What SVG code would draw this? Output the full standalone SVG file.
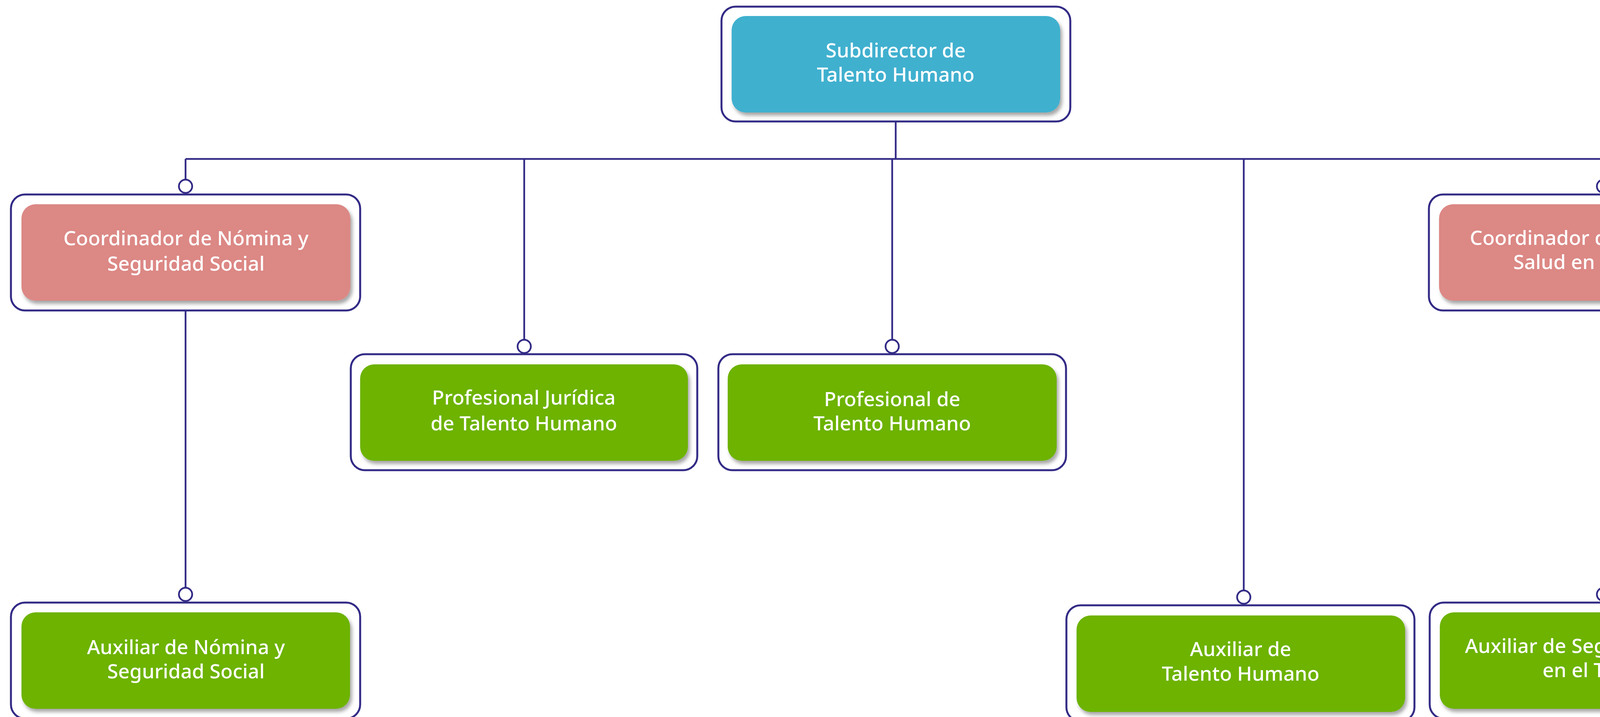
<svg xmlns="http://www.w3.org/2000/svg" width="4574" height="1836" viewBox="0 0 4574 1836">
<defs>
<filter id="sh" x="-5%" y="-10%" width="112%" height="130%">
<feDropShadow dx="5" dy="8" stdDeviation="5" flood-color="#000" flood-opacity="0.35"/>
</filter>
<style>
.outer{fill:#fff;stroke:#332b86;stroke-width:5}
.blue{fill:#3fb0cf;filter:url(#sh)}
.pink{fill:#dc8885;filter:url(#sh)}
.green{fill:#6db301;filter:url(#sh)}
.t{fill:#fff;font-family:"Noto Sans","Open Sans",sans-serif;font-size:51px;font-weight:500;text-anchor:middle}
.c{fill:none;stroke:#332b86;stroke-width:4.5}
.dot{fill:#fff;stroke:#332b86;stroke-width:4.5}
</style>
</defs>
<rect width="4574" height="1836" fill="#fff"/>
<g id="connectors">
<path class="c" d="M2293 311V407M475 407H4105M475 407V460M1342 407V870M2284 407V870M3184 407V1512M4105 407V460M475 795V1505M4105 795V1505"/>
<circle class="dot" cx="475" cy="477" r="17"/>
<circle class="dot" cx="4105" cy="477" r="17"/>
<circle class="dot" cx="1342" cy="887" r="17"/>
<circle class="dot" cx="2284" cy="887" r="17"/>
<circle class="dot" cx="475" cy="1522" r="17"/>
<circle class="dot" cx="3184" cy="1529" r="17"/>
<circle class="dot" cx="4105" cy="1522" r="17"/>
</g>
<g id="subdirector">
<rect class="outer" x="1847" y="17" width="893" height="294" rx="36"/>
<rect class="blue" x="1873" y="41" width="841" height="247" rx="36"/>
<text class="t"><tspan x="2293" y="147">Subdirector de</tspan><tspan x="2293" y="209">Talento Humano</tspan></text>
</g>
<g id="coord-nomina">
<rect class="outer" x="28" y="498" width="894" height="297" rx="36"/>
<rect class="pink" x="55" y="523" width="842" height="247" rx="36"/>
<text class="t"><tspan x="476" y="628">Coordinador de Nómina y</tspan><tspan x="476" y="693">Seguridad Social</tspan></text>
</g>
<g id="coord-sst">
<rect class="outer" x="3658" y="498" width="892" height="297" rx="36"/>
<rect class="pink" x="3684" y="523" width="841" height="247" rx="36"/>
<text class="t"><tspan x="4104" y="627">Coordinador de Seguridad y</tspan><tspan x="4104" y="689">Salud en el Trabajo</tspan></text>
</g>
<g id="prof-juridica">
<rect class="outer" x="898" y="907" width="887" height="297" rx="36"/>
<rect class="green" x="922" y="933" width="839" height="247" rx="36"/>
<text class="t"><tspan x="1341" y="1036">Profesional Jurídica</tspan><tspan x="1341" y="1102">de Talento Humano</tspan></text>
</g>
<g id="prof-th">
<rect class="outer" x="1839" y="907" width="890" height="297" rx="36"/>
<rect class="green" x="1863" y="933" width="842" height="247" rx="36"/>
<text class="t"><tspan x="2284" y="1040">Profesional de</tspan><tspan x="2284" y="1102">Talento Humano</tspan></text>
</g>
<g id="aux-nomina">
<rect class="outer" x="28" y="1543" width="894" height="297" rx="36"/>
<rect class="green" x="55" y="1568" width="841" height="247" rx="36"/>
<text class="t"><tspan x="476" y="1675">Auxiliar de Nómina y</tspan><tspan x="476" y="1737">Seguridad Social</tspan></text>
</g>
<g id="aux-th">
<rect class="outer" x="2730" y="1550" width="891" height="297" rx="36"/>
<rect class="green" x="2756" y="1576" width="841" height="247" rx="36"/>
<text class="t"><tspan x="3176" y="1680">Auxiliar de</tspan><tspan x="3176" y="1743">Talento Humano</tspan></text>
</g>
<g id="aux-sst">
<rect class="outer" x="3660" y="1543" width="888" height="297" rx="36"/>
<rect class="green" x="3686" y="1568" width="839" height="247" rx="36"/>
<text class="t"><tspan x="4105" y="1672">Auxiliar de Seguridad y Salud</tspan><tspan x="4105" y="1734">en el Trabajo</tspan></text>
</g>
</svg>
